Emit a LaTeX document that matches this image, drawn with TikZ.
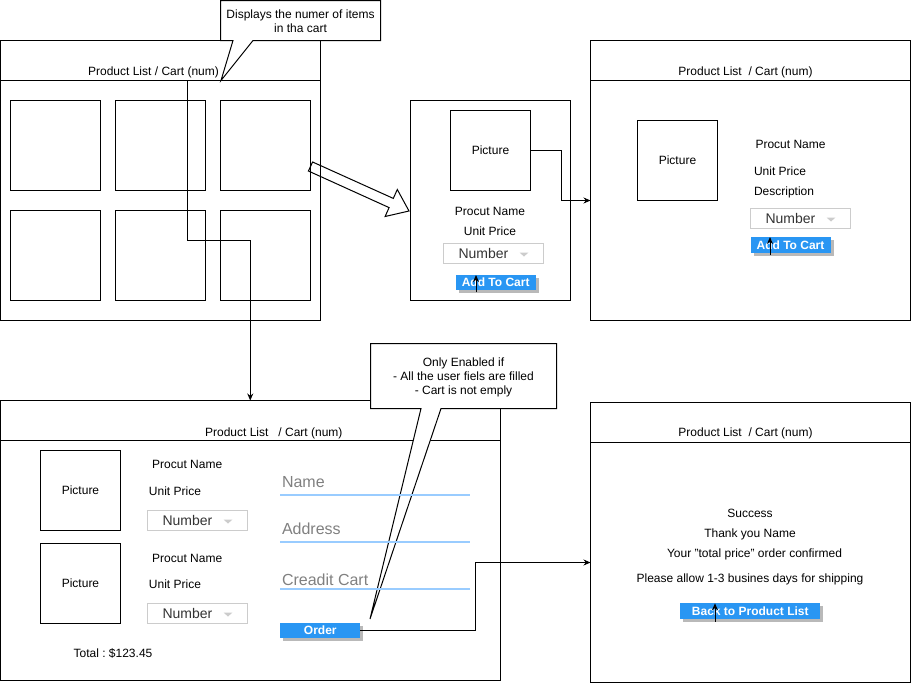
\documentclass[tikz,border=0pt]{standalone}
\usepackage{fontspec}
\setmainfont{Liberation Sans}
\usetikzlibrary{arrows.meta,shadows}
\frenchspacing

\definecolor{btnblue}{RGB}{41,150,243}
\definecolor{shadowgray}{RGB}{185,185,185}
\definecolor{ddgray}{RGB}{204,204,204}
\definecolor{fieldblue}{RGB}{153,204,255}
\definecolor{fieldgray}{RGB}{128,128,128}
\definecolor{darktext}{RGB}{51,51,51}

% quantity drop-down: name, left x, top y
\newcommand\numdrop[3]{%
  \node[ddbox] (#1) at (#2+50,#3+10) {};
  \node[ddtext] (#1-t) at (#2+15,#3+15) {Number};
  \fill[ddgray] (#2+76,#3+9) -- (#2+85,#3+9) -- (#2+80.5,#3+13) -- cycle;
}

\begin{document}
\begin{tikzpicture}[x=1pt,y=-1pt,line width=1pt,
  every node/.style={inner sep=0pt,outer sep=0pt,font=\fontsize{12}{14}\selectfont},
  frame/.style={draw,line width=1pt},
  sq/.style={draw,line width=1pt,minimum width=90pt,minimum height=90pt},
  pic/.style={draw,line width=1pt,minimum width=80pt,minimum height=80pt},
  lbl/.style={anchor=base},
  lblw/.style={anchor=base west},
  ddbox/.style={draw=ddgray,line width=1pt,minimum width=100pt,minimum height=20pt},
  ddtext/.style={anchor=base west,text=darktext,font=\fontsize{14}{16}\selectfont},
  fieldtext/.style={anchor=base west,text=fieldgray,font=\fontsize{16}{19}\selectfont},
  fieldline/.style={draw=fieldblue,line width=2pt},
  btn/.style={fill=btnblue,text=white,font=\bfseries\fontsize{12}{14}\selectfont,
    drop shadow={shadow xshift=3pt,shadow yshift=-3pt,fill=shadowgray,opacity=1}},
  conn/.style={draw,line width=1pt,-{Stealth[length=7pt,width=6pt]}},
  cursor/.style={draw,line width=1pt,-{Stealth[length=7pt,width=6pt]}},
  callout/.style={draw,fill=white,line width=1pt,line join=miter},
]
\useasboundingbox (0,0) rectangle (911,683);

% ---------- product list window ----------
\node[frame,minimum width=320pt,minimum height=280pt] (w1) at (160.5,180.5) {};
\draw (0.5,80.5) -- (320.5,80.5);
\node[lbl] (w1t) at (153.5,75.3) {Product List / Cart (num)};
\node[sq] (g11) at (55.5,145.5) {};
\node[sq] (g12) at (160.5,145.5) {};
\node[sq] (g13) at (265.5,145.5) {};
\node[sq] (g21) at (55.5,255.5) {};
\node[sq] (g22) at (160.5,255.5) {};
\node[sq] (g23) at (265.5,255.5) {};

% callout about the cart counter
\draw[callout] (220.5,0.5) -- (380.5,0.5) -- (380.5,40.5) -- (253,40.5) -- (221,80.5)
  -- (233,40.5) -- (220.5,40.5) -- cycle;
\node[lbl] (c1a) at (300.5,18) {Displays the numer of items};
\node[lbl] (c1b) at (300.5,32) {in tha cart};

% zoom arrow from a tile to its product card
\draw[line width=1pt,line join=miter] (312.6,162) -- (393.3,198.4) -- (397.3,189.5) -- (409,211)
  -- (385.1,216.5) -- (389.1,207.6) -- (308.4,171) -- cycle;

% ---------- product card ----------
\node[frame,minimum width=160pt,minimum height=200pt] (card) at (490.5,200.5) {};
\node[pic] (cpic) at (490.5,150.5) {Picture};
\node[lbl] (cname) at (490,215) {Procut Name};
\node[lbl] (cprice) at (490,235) {Unit Price};
\numdrop{cdd}{443.5}{243.5}
\node[btn,minimum width=80pt,minimum height=15pt] (cbtn) at (495.7,282.5) {Add To Cart};

% ---------- product detail window ----------
\node[frame,minimum width=320pt,minimum height=280pt] (w2) at (750.5,180.5) {};
\draw (590.5,80.5) -- (910.5,80.5);
\node[lbl] (w2t) at (745.5,75.3) {Product List\ \ / Cart (num)};
\node[pic] (dpic) at (677.5,160.5) {Picture};
\node[lblw] (dname) at (755.5,148) {Procut Name};
\node[lblw] (dprice) at (754,175) {Unit Price};
\node[lblw] (ddesc) at (754,195) {Description};
\numdrop{ddd}{750.5}{208.5}
\node[btn,minimum width=80pt,minimum height=16pt] (dbtn) at (790.5,245) {Add To Cart};

% ---------- cart / checkout window ----------
\node[frame,minimum width=499.5pt,minimum height=280pt] (w3) at (250.25,540.5) {};
\draw (0.5,440.5) -- (500,440.5);
\node[lbl] (w3t) at (273.8,436) {Product List\ \ \ / Cart (num)};
\node[pic] (kpic1) at (80.5,490.5) {Picture};
\node[pic] (kpic2) at (80.5,583.5) {Picture};
\node[lbl] (kname1) at (187.2,468.6) {Procut Name};
\node[lbl] (kprice1) at (175,495) {Unit Price};
\numdrop{kdd1}{147.5}{510.5}
\node[lbl] (kname2) at (187.2,562) {Procut Name};
\node[lbl] (kprice2) at (175,588) {Unit Price};
\numdrop{kdd2}{147.5}{603.5}
\node[lbl] (total) at (113,657.6) {Total : \$123.45};

% callout about the order button
\draw[callout] (370.5,343.5) -- (556.5,343.5) -- (556.5,408.5) -- (441,408.5) -- (370,619)
  -- (421,408.5) -- (370.5,408.5) -- cycle;
\node[lbl] (c2a) at (463.5,366.7) {Only Enabled if};
\node[lbl] (c2b) at (463.5,380.7) {- All the user fiels are filled};
\node[lbl] (c2c) at (463.5,394.8) {- Cart is not emply};

% user input fields
\node[fieldtext] (fname) at (282,487.4) {Name};
\draw[fieldline] (280,495) -- (470,495);
\node[fieldtext] (faddr) at (282,534) {Address};
\draw[fieldline] (280,542) -- (470,542);
\node[fieldtext] (fcard) at (282,585) {Creadit Cart};
\draw[fieldline] (280,588.5) -- (470,588.5);
\node[btn,minimum width=80pt,minimum height=15pt] (order) at (320.3,630.5) {Order};

% ---------- confirmation window ----------
\node[frame,minimum width=320pt,minimum height=280pt] (w4) at (750.5,542.5) {};
\draw (590.5,442.5) -- (910.5,442.5);
\node[lbl] (w4t) at (745.5,436.5) {Product List\ \ / Cart (num)};
\node[lbl] (s1) at (750,517) {Success};
\node[lbl] (s2) at (750,537) {Thank you Name};
\node[lbl] (s3) at (754.5,557.6) {Your "total price" order confirmed};
\node[lbl] (s4) at (750,582) {Please allow 1-3 busines days for shipping};
\node[btn,minimum width=140pt,minimum height=16pt] (back) at (750.3,611.3) {Back to Product List};

% ---------- navigation connectors ----------
\coordinate (cartsrc) at (187,80.5);
\draw[conn] (cartsrc) -- (187,240.5) -| (w3.north);
\draw[conn] (cpic.east) -- (561,150.5) |- ([yshift=-20pt]w2.west);
\draw[conn] (order.east) -- (475.5,630.5) |- ([yshift=-20pt]w4.west);

% click markers on the buttons
\coordinate (cur1) at (476,292);
\draw[cursor] (cur1) -- (cur1 |- cbtn.north);
\coordinate (cur2) at (770,254.5);
\draw[cursor] (cur2) -- (cur2 |- dbtn.north);
\coordinate (cur3) at (715,621.5);
\draw[cursor] (cur3) -- (cur3 |- back.north);
\end{tikzpicture}
\end{document}
